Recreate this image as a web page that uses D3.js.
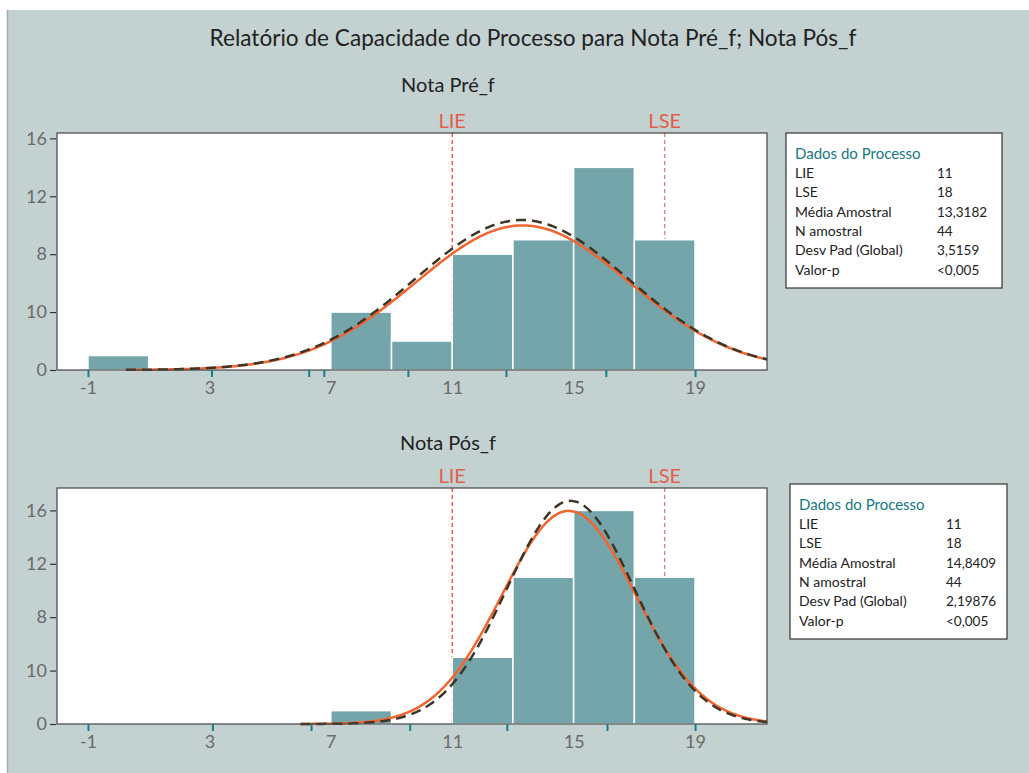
<!DOCTYPE html>
<html>
<head>
<meta charset="utf-8">
<script src="https://cdn.jsdelivr.net/npm/d3@7"></script>
<style>
	body { margin: 0; background: #ffffff; }
	svg text { font-family: "Lato", "Noto Sans", sans-serif; }
</style>
</head>
<body>
<div id="chart"></div>
<script>
// histogram bins (2 units wide, -1 .. 19)
var binEdges = [-1, 1, 3, 5, 7, 9, 11, 13, 15, 17, 19];
var preCounts = [1, 0, 0, 0, 4, 2, 8, 9, 14, 9];
var posCounts = [0, 0, 0, 0, 1, 0, 5, 11, 16, 11];

// axis labels and the (odd) teal tick marks of the original report
var xLabelValues = [-1, 3, 7, 11, 15, 19];
var preTickValues = [-1, 3.07, 6.27, 6.77, 9.54, 12.77, 16.06, 19];
var posTickValues = [-1, 3.1, 6.35, 9.6, 12.8, 16.1, 19];
var yTickValues = [0, 4, 8, 12, 16];
var yTickLabels = ["0", "10", "8", "12", "16"];

var specLimits = [11, 18];
var specNames = ["LIE", "LSE"];

// fitted curves: [mean, sd, area scale]; solid = global, dashed =
var preSolid = [13.3182, 3.5159, 88];
var preDashed = [13.29, 3.5159, 91.3];
var posSolid = [14.8409, 2.19876, 88];
var posDashed = [14.9, 2.10, 88];
var preCurveStart = 0.25;
var posCurveStart = 6.0;

var statLabels = ["LIE", "LSE", "Média Amostral", "N amostral", "Desv Pad (Global)", "Valor-p"];
var preStats = ["11", "18", "13,3182", "44", "3,5159", "<0,005"];
var posStats = ["11", "18", "14,8409", "44", "2,19876", "<0,005"];

var W = 1029, H = 773;
var svg = d3.select("#chart").append("svg")
	.attr("width", W)
	.attr("height", H);

svg.append("rect")
	.attr("x", 7).attr("y", 10)
	.attr("width", W - 7).attr("height", H - 10)
	.attr("fill", "#c3d1d1");
svg.append("line")
	.attr("x1", 7.5).attr("x2", 7.5).attr("y1", 10).attr("y2", H)
	.attr("stroke", "#a9a6bd").attr("stroke-width", 1.5);

svg.append("text")
	.attr("x", 533).attr("y", 46)
	.attr("text-anchor", "middle")
	.attr("font-size", 22.6)
	.attr("fill", "#222")
	.text("Relatório de Capacidade do Processo para Nota Pré_f; Nota Pós_f");

function cap_panel(opts) {
	this.left = 57;
	this.right = 767;
	this.top = opts.top;
	this.bottom = opts.bottom;
	this.x = d3.scaleLinear().domain([-2.02, 21.37]).range([this.left, this.right]);
	this.y = d3.scaleLinear().domain([0, opts.ymax]).range([this.bottom, this.top]);
	this.g = svg.append("g");
	this.opts = opts;
}

cap_panel.prototype = {
	draw : function() {
		var self = this, o = self.opts, x = self.x, y = self.y;

		self.g.append("text")
			.attr("x", 448).attr("y", o.subtitleY)
			.attr("text-anchor", "middle")
			.attr("font-size", 20)
			.attr("fill", "#222")
			.text(o.subtitle);

		self.g.append("rect")
			.attr("x", self.left).attr("y", self.top)
			.attr("width", self.right - self.left)
			.attr("height", self.bottom - self.top)
			.attr("fill", "#fff");

		// spec limit lines
		self.g.selectAll(".spec")
			.data(specLimits)
			.enter().append("line")
			.attr("x1", function(d) { return x(d); })
			.attr("x2", function(d) { return x(d); })
			.attr("y1", self.top)
			.attr("y2", self.bottom)
			.attr("stroke", function(d, i) { return i == 0 ? "#e8363a" : "#e3717a"; })
			.attr("stroke-width", 1.2)
			.attr("stroke-dasharray", "4,3");

		self.g.selectAll(".specLabel")
			.data(specLimits)
			.enter().append("text")
			.attr("x", function(d) { return x(d); })
			.attr("y", self.top - 5)
			.attr("text-anchor", "middle")
			.attr("font-size", 20)
			.attr("fill", "#e0604c")
			.text(function(d, i) { return specNames[i]; });

		// bars (empty bins skipped)
		var bins = o.counts.map(function(c, i) { return { c: c, x0: binEdges[i], x1: binEdges[i + 1] }; })
			.filter(function(b) { return b.c > 0; });
		self.g.selectAll(".bar")
			.data(bins)
			.enter().append("rect")
			.attr("x", function(d) { return x(d.x0); })
			.attr("y", function(d) { return y(d.c); })
			.attr("width", function(d) { return x(d.x1) - x(d.x0); })
			.attr("height", function(d) { return y(0) - y(d.c); })
			.attr("fill", "#74a5ab")
			.attr("stroke", "#fff")
			.attr("stroke-width", 1.5);

		// fitted curves
		var xs = d3.range(o.start, 21.37, 0.05).concat([21.37]);
		function pdf(v, f) {
			return f[2] * Math.exp(-0.5 * Math.pow((v - f[0]) / f[1], 2)) / (f[1] * Math.sqrt(2 * Math.PI));
		}
		var line = d3.line()
			.x(function(d) { return x(d[0]); })
			.y(function(d) { return y(d[1]); })
			.curve(d3.curveBasis);

		self.g.append("path")
			.datum(xs.map(function(v) { return [v, pdf(v, o.solid)]; }))
			.attr("d", line)
			.attr("fill", "none")
			.attr("stroke", "#f26430")
			.attr("stroke-width", 2.5);

		self.g.append("path")
			.datum(xs.map(function(v) { return [v, pdf(v, o.dashed)]; }))
			.attr("d", line)
			.attr("fill", "none")
			.attr("stroke", "#3f3526")
			.attr("stroke-width", 2.5)
			.attr("stroke-dasharray", "10,6");

		// frame
		self.g.append("rect")
			.attr("x", self.left).attr("y", self.top)
			.attr("width", self.right - self.left)
			.attr("height", self.bottom - self.top)
			.attr("fill", "none")
			.attr("stroke", "#444")
			.attr("stroke-width", 1.2);

		// y axis
		var yAxis = d3.axisLeft(y)
			.tickValues(yTickValues)
			.tickSize(6)
			.tickPadding(3)
			.tickFormat(function(d, i) { return yTickLabels[i]; });
		var ya = self.g.append("g")
			.attr("transform", "translate(" + (self.left - 1) + ",0)")
			.call(yAxis);
		ya.select(".domain").remove();
		ya.selectAll("line").attr("stroke", "#333").attr("stroke-width", 1.2);
		ya.selectAll("text").attr("font-size", 18).attr("fill", "#6a6a6a")
			.attr("font-family", "Lato, sans-serif");

		// x axis: teal ticks and gray labels
		var xt = d3.axisBottom(x).tickValues(o.ticks).tickSize(7).tickFormat("");
		var xa = self.g.append("g")
			.attr("transform", "translate(0," + self.bottom + ")")
			.call(xt);
		xa.select(".domain").remove();
		xa.selectAll("line").attr("stroke", "#16808a").attr("stroke-width", 2);

		var xl = d3.axisBottom(x).tickValues(xLabelValues).tickSize(0).tickPadding(11)
			.tickFormat(function(d) { return String(d); });
		var xla = self.g.append("g")
			.attr("transform", "translate(0," + self.bottom + ")")
			.call(xl);
		xla.select(".domain").remove();
		xla.selectAll("text").attr("font-size", 18).attr("fill", "#6a6a6a")
			.attr("font-family", "Lato, sans-serif");

		// stats box
		var b = o.box;
		var box = self.g.append("g").attr("transform", "translate(" + b[0] + "," + b[1] + ")");
		box.append("rect")
			.attr("x", 0).attr("y", 0)
			.attr("width", b[2]).attr("height", b[3])
			.attr("fill", "#fff")
			.attr("stroke", "#333")
			.attr("stroke-width", 1.2);
		box.append("text")
			.attr("x", 9).attr("y", 26)
			.attr("font-size", 15)
			.attr("fill", "#17777f")
			.text("Dados do Processo");
		box.selectAll(".lab")
			.data(statLabels)
			.enter().append("text")
			.attr("x", 9)
			.attr("y", function(d, i) { return 45 + i * 19.3; })
			.attr("font-size", 14)
			.attr("fill", "#222")
			.text(function(d) { return d; });
		box.selectAll(".val")
			.data(o.stats)
			.enter().append("text")
			.attr("x", b[4])
			.attr("y", function(d, i) { return 45 + i * 19.3; })
			.attr("font-size", 13.5)
			.attr("fill", "#222")
			.text(function(d) { return d; });
	}
};

new cap_panel({
	top: 133, bottom: 370, ymax: 16.37,
	subtitle: "Nota Pré_f", subtitleY: 92,
	counts: preCounts, solid: preSolid, dashed: preDashed, start: preCurveStart,
	ticks: preTickValues, stats: preStats, box: [786, 133, 216, 155, 151]
}).draw();

new cap_panel({
	top: 488, bottom: 724, ymax: 17.68,
	subtitle: "Nota Pós_f", subtitleY: 450,
	counts: posCounts, solid: posSolid, dashed: posDashed, start: posCurveStart,
	ticks: posTickValues, stats: posStats, box: [790, 484, 217, 155, 156]
}).draw();
</script>
</body>
</html>
